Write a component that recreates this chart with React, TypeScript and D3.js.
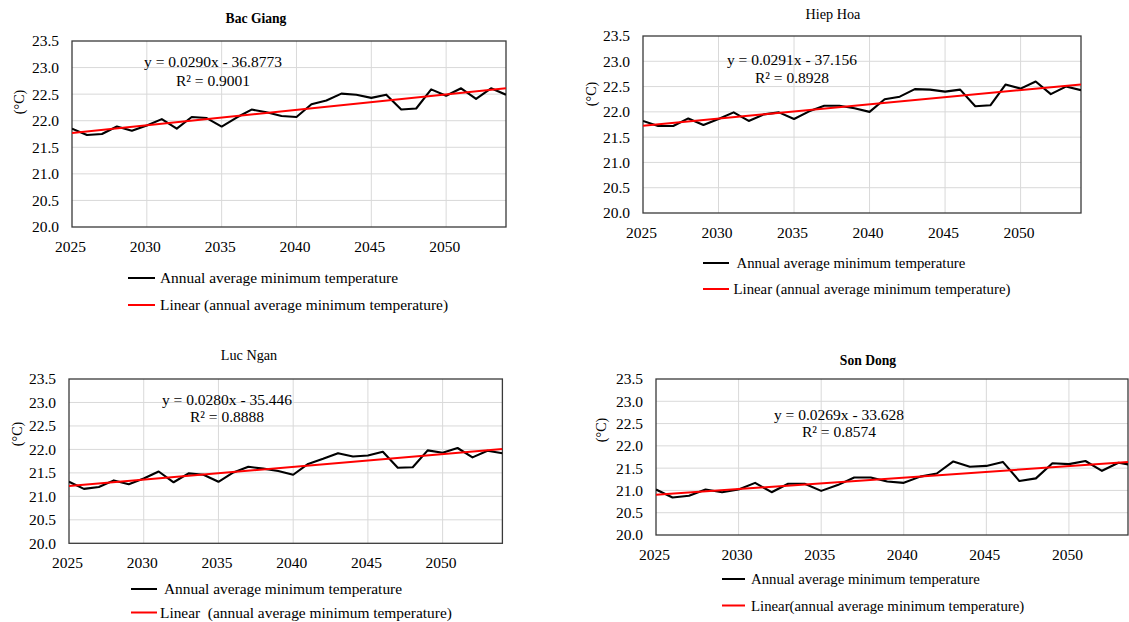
import React from "react";
import * as d3 from "d3";

// ---------- DATA ----------
const years = [
  2025, 2026, 2027, 2028, 2029, 2030, 2031, 2032, 2033, 2034,
  2035, 2036, 2037, 2038, 2039, 2040, 2041, 2042, 2043, 2044,
  2045, 2046, 2047, 2048, 2049, 2050, 2051, 2052, 2053, 2054,
];

const bacGiangTemp = [
  21.85, 21.73, 21.75, 21.89, 21.81, 21.91, 22.03, 21.85, 22.07, 22.05,
  21.89, 22.06, 22.21, 22.16, 22.09, 22.07, 22.31, 22.38, 22.51, 22.49,
  22.43, 22.49, 22.21, 22.23, 22.59, 22.47, 22.61, 22.41, 22.61, 22.49,
];

const hiepHoaTemp = [
  21.82, 21.72, 21.72, 21.87, 21.74, 21.86, 21.99, 21.82, 21.95, 21.99,
  21.86, 22.01, 22.12, 22.12, 22.07, 22.0, 22.25, 22.3, 22.45, 22.44,
  22.4, 22.44, 22.11, 22.13, 22.54, 22.46, 22.6, 22.35, 22.5, 22.43,
];

const lucNganTemp = [
  21.31, 21.16, 21.2, 21.34, 21.26, 21.38, 21.53, 21.3, 21.49, 21.46,
  21.31, 21.51, 21.63, 21.59, 21.54, 21.46, 21.69, 21.8, 21.92, 21.85,
  21.87, 21.95, 21.61, 21.62, 21.98, 21.93, 22.03, 21.83, 21.97, 21.92,
];

const sonDongTemp = [
  21.02, 20.84, 20.88, 21.02, 20.96, 21.02, 21.17, 20.96, 21.15, 21.15,
  20.99, 21.12, 21.29, 21.29, 21.2, 21.17, 21.31, 21.38, 21.65, 21.53,
  21.55, 21.64, 21.21, 21.27, 21.61, 21.59, 21.66, 21.44, 21.62, 21.56,
];

const yTicks = [20.0, 20.5, 21.0, 21.5, 22.0, 22.5, 23.0, 23.5];
const xTicks = [2025, 2030, 2035, 2040, 2045, 2050];

const titles = ["Bac Giang", "Hiep Hoa", "Luc Ngan", "Son Dong"];
const equations = [
  "y = 0.0290x - 36.8773",
  "y = 0.0291x - 37.156",
  "y = 0.0280x - 35.446",
  "y = 0.0269x - 33.628",
];
const rSquared = ["R² = 0.9001", "R² = 0.8928", "R² = 0.8888", "R² = 0.8574"];
const seriesLabel = "Annual average minimum temperature";
const trendLabels = [
  "Linear (annual average minimum temperature)",
  "Linear (annual average minimum temperature)",
  "Linear  (annual average minimum temperature)",
  "Linear(annual average minimum temperature)",
];
const yAxisLabel = "(°C)";

// ---------- LAYOUT ----------
type Layout = {
  l: number; t: number; r: number; b: number; frameR: number;
  titleX: number; titleY: number; titleBold: boolean;
  eqX: number; eqY1: number; eqY2: number;
  ylabX: number; ylabY: number;
  legX1: number; legX2: number; legTextX1: number; legTextX2: number;
  legY1: number; legY2: number; legFont: number;
};

const layouts: Layout[] = [
  { l: 72, t: 41, r: 506, b: 227, frameR: 506, titleX: 256, titleY: 23, titleBold: true,
    eqX: 213, eqY1: 67, eqY2: 86, ylabX: 19, ylabY: 102,
    legX1: 128, legX2: 155, legTextX1: 160, legTextX2: 160, legY1: 278, legY2: 305, legFont: 15.4 },
  { l: 643, t: 36, r: 1081, b: 213, frameR: 1081, titleX: 833, titleY: 18.5, titleBold: false,
    eqX: 792, eqY1: 65, eqY2: 83, ylabX: 591, ylabY: 94,
    legX1: 703, legX2: 729, legTextX1: 736.5, legTextX2: 733.5, legY1: 263, legY2: 289, legFont: 14.8 },
  { l: 69, t: 379, r: 502.4, b: 543.3, frameR: 502.4, titleX: 249, titleY: 360, titleBold: false,
    eqX: 227, eqY1: 405, eqY2: 421.5, ylabX: 17.5, ylabY: 434,
    legX1: 131, legX2: 157, legTextX1: 164, legTextX2: 160, legY1: 589, legY2: 612.5, legFont: 15.4 },
  { l: 656, t: 379, r: 1135, b: 535, frameR: 1128, titleX: 868, titleY: 365, titleBold: true,
    eqX: 839, eqY1: 420, eqY2: 437, ylabX: 601.5, ylabY: 430,
    legX1: 722, legX2: 745, legTextX1: 751, legTextX2: 751, legY1: 579, legY2: 605.5, legFont: 14.8 },
];

const panelData = [bacGiangTemp, hiepHoaTemp, lucNganTemp, sonDongTemp];

const FONT = '"Liberation Serif", "Times New Roman", serif';
const textStyle: React.CSSProperties = { fontFamily: FONT };

function linearFit(xs: number[], ys: number[]) {
  const mx = d3.mean(xs) as number;
  const my = d3.mean(ys) as number;
  let num = 0;
  let den = 0;
  xs.forEach((x, i) => {
    num += (x - mx) * (ys[i] - my);
    den += (x - mx) * (x - mx);
  });
  const slope = num / den;
  return { slope, intercept: my - slope * mx };
}

function Panel({ idx }: { idx: number }) {
  const L = layouts[idx];
  const values = panelData[idx];
  const x = d3.scaleLinear().domain([years[0], years[years.length - 1]]).range([L.l, L.r]);
  const y = d3.scaleLinear().domain([20, 23.5]).range([L.b, L.t]);
  const pts: [number, number][] = years.map((yr, i) => [yr, values[i]]);
  const line = d3.line<[number, number]>().x((d) => x(d[0])).y((d) => y(d[1]));
  const fit = linearFit(years, values);
  const x0 = years[0];
  const x1 = years[years.length - 1];
  const trend: [number, number][] = [
    [x0, fit.intercept + fit.slope * x0],
    [x1, fit.intercept + fit.slope * x1],
  ];
  const clipId = `clip-${idx}`;
  const fmt = d3.format(".1f");
  return (
    <g style={textStyle}>
      <defs>
        <clipPath id={clipId}>
          <rect x={L.l} y={L.t - 3} width={L.frameR - L.l} height={L.b - L.t + 6} />
        </clipPath>
      </defs>
      {yTicks.slice(1, -1).map((v) => (
        <line key={"gy" + v} x1={L.l} x2={L.frameR} y1={y(v)} y2={y(v)} stroke="#d9d9d9" strokeWidth={1} />
      ))}
      {xTicks.slice(1).map((v) => (
        <line key={"gx" + v} x1={x(v)} x2={x(v)} y1={L.t} y2={L.b} stroke="#d9d9d9" strokeWidth={1} />
      ))}
      <rect x={L.l} y={L.t} width={L.frameR - L.l} height={L.b - L.t} fill="none" stroke="#3a3a3a" strokeWidth={1.3} />
      <g clipPath={`url(#${clipId})`}>
        <path d={line(pts) || ""} fill="none" stroke="#000" strokeWidth={2.1} strokeLinejoin="round" />
        <path d={line(trend) || ""} fill="none" stroke="#ff0000" strokeWidth={2} />
      </g>
      {yTicks.map((v) => (
        <text key={"ty" + v} x={L.l - 13} y={y(v)} dy="0.35em" textAnchor="end" fontSize={15.5} style={textStyle} fill="#000">
          {fmt(v)}
        </text>
      ))}
      {xTicks.map((v) => (
        <text key={"tx" + v} x={x(v) - 1.5} y={L.b + 24.5} textAnchor="middle" fontSize={15.5} style={textStyle} fill="#000">
          {v}
        </text>
      ))}
      <text x={L.titleX} y={L.titleY} textAnchor="middle" fontSize={L.titleBold ? 13.6 : 14.2} fontWeight={L.titleBold ? "bold" : "normal"} style={textStyle} fill="#000">
        {titles[idx]}
      </text>
      <text transform={`translate(${L.ylabX},${L.ylabY}) rotate(-90)`} textAnchor="middle" dy="0.35em" fontSize={14} style={textStyle} fill="#000">
        {yAxisLabel}
      </text>
      <text x={L.eqX} y={L.eqY1} textAnchor="middle" fontSize={15.5} style={textStyle} fill="#000">
        {equations[idx]}
      </text>
      <text x={L.eqX} y={L.eqY2} textAnchor="middle" fontSize={15.5} style={textStyle} fill="#000">
        {rSquared[idx]}
      </text>
      <line x1={L.legX1} x2={L.legX2} y1={L.legY1} y2={L.legY1} stroke="#000" strokeWidth={2} />
      <text x={L.legTextX1} y={L.legY1 + 5.2} fontSize={L.legFont} style={textStyle} fill="#000">
        {seriesLabel}
      </text>
      <line x1={L.legX1} x2={L.legX2} y1={L.legY2} y2={L.legY2} stroke="#ff0000" strokeWidth={2} />
      <text x={L.legTextX2} y={L.legY2 + 5.2} fontSize={L.legFont} style={{ fontFamily: FONT, whiteSpace: "pre" }} fill="#000">
        {trendLabels[idx]}
      </text>
    </g>
  );
}

export default function App() {
  return (
    <svg
      width={1129}
      height={622}
      viewBox="0 0 1129 622"
      style={{ position: "absolute", left: 0, top: 0, display: "block", background: "#fff", fontFamily: FONT }}
    >
      <rect x={0} y={0} width={1129} height={622} fill="#fff" />
      {layouts.map((_, i) => (
        <Panel key={i} idx={i} />
      ))}
    </svg>
  );
}
